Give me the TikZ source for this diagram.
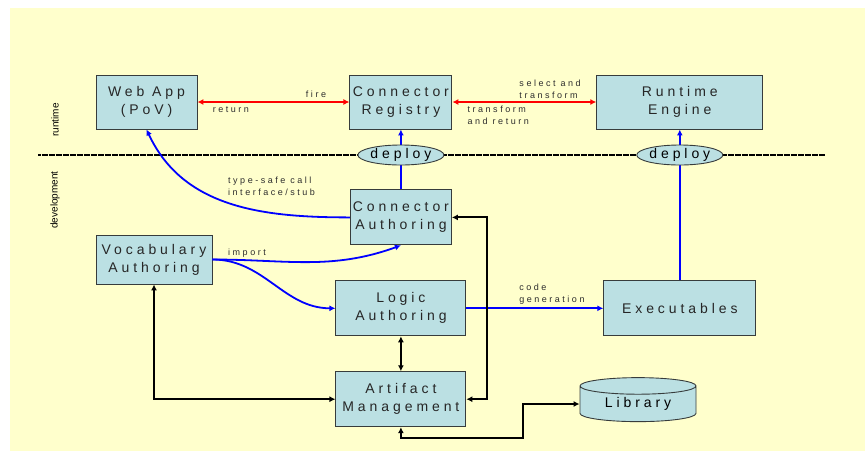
\documentclass[tikz,border=0pt]{standalone}
\usepackage{fontspec}
\setmainfont{Liberation Sans}
\newfontfamily\spacedfont[LetterSpace=28]{Liberation Sans}
\usetikzlibrary{positioning,arrows.meta,calc,shapes.geometric}
\definecolor{PaleYellow}{RGB}{255,255,204}
\definecolor{BoxBlue}{RGB}{187,224,227}
\definecolor{BoxEdge}{RGB}{55,60,60}
\definecolor{LabelGray}{RGB}{45,45,45}
\tikzset{
  box/.style={draw=BoxEdge,fill=BoxBlue,line width=0.9pt,align=center,inner sep=0pt,
    font=\spacedfont\fontsize{14}{18}\selectfont,text=black!85},
  deploy/.style={ellipse,draw=BoxEdge,fill=BoxBlue,line width=0.9pt,inner sep=0pt,
    minimum width=80pt,minimum height=20pt,font=\spacedfont\fontsize{14}{18}\selectfont},
  drum/.style={cylinder,shape border rotate=90,aspect=0.25,draw=BoxEdge,fill=BoxBlue,
    line width=0.9pt,inner sep=0pt,font=\spacedfont\fontsize{14}{18}\selectfont},
  note/.style={font=\spacedfont\fontsize{9}{12}\selectfont,text=LabelGray,align=left,inner sep=0pt},
  side/.style={rotate=90,font=\fontsize{10}{12}\selectfont,inner sep=0pt},
  divider/.style={line width=1.5pt,dash pattern=on 3pt off 0.5pt},
  redflow/.style={{Latex[length=6pt,width=6pt]}-{Latex[length=6pt,width=6pt]},line width=1.8pt,draw=red},
  blueflow/.style={-{Latex[length=6pt,width=6pt]},line width=1.8pt,draw=blue},
  blackflow/.style={{Latex[length=6pt,width=6pt]}-{Latex[length=6pt,width=6pt]},line width=1.9pt,draw=black}
}
\begin{document}
\begin{tikzpicture}[x=1pt,y=-1pt]
  \useasboundingbox (0,0) rectangle (865,451);
  \fill[PaleYellow] (10,8) rectangle (865,451);
  % runtime / development split
  \coordinate (divL) at (38,155);
  \coordinate (divR) at (825,155);
  \draw[divider] (divL) -- (divR);
  \node[side] (rtlabel) at (55,120) {runtime};
  \node[side] (devlabel) at (55,200) {development};

  \node[box,minimum width=101pt,minimum height=54pt] (webapp) at (146.5,102) {Web App\\(PoV)};
  \node[box,right=152pt of webapp,minimum width=102pt,minimum height=54pt] (registry) {Connector\\Registry};
  \node[box,right=144pt of registry,minimum width=166pt,minimum height=54pt] (engine) {Runtime\\Engine};
  \node[box,below=60pt of registry,minimum width=101pt,minimum height=55pt] (conauth) {Connector\\Authoring};
  \node[box,below=35pt of conauth,minimum width=130pt,minimum height=55pt] (logic) {Logic\\Authoring};
  \node[box,below=35pt of logic,minimum width=130pt,minimum height=55pt] (artifact) {Artifact\\Management};
  \node[box,right=137pt of logic,minimum width=152pt,minimum height=55pt] (exec) {Executables};
  \node[box,minimum width=116pt,minimum height=49pt] (vocab) at (154,259.5) {Vocabulary\\Authoring};
  \node[drum,minimum width=116pt,minimum height=44pt] (library) at (638,404) {Library};

  % runtime calls
  \draw[redflow] (webapp) -- (registry)
    node[note,pos=0.78,above=4pt] {fire}
    node[note,pos=0.22,below=4pt] {return};
  \draw[redflow] (registry) -- (engine)
    node[note,pos=0.46,above right=3pt and 0pt] {select and\\transform}
    node[note,pos=0.10,below right=3pt and 0pt] {transform\\and return};

  % deployment
  \draw[blueflow] (conauth) -- (registry);
  \draw[blueflow] (exec) -- (engine);
  \node[deploy] (deployA) at (registry |- divL) {deploy};
  \node[deploy] (deployB) at (engine |- divL) {deploy};

  % development flows
  \draw[blueflow] (conauth.west) to[out=180,in=-65] (webapp.south);
  \node[note,anchor=south west] (stub) at (228,196) {type-safe call\\interface/stub};
  \draw[blueflow] (vocab.east) to[out=0,in=200] (conauth.south);
  \draw[blueflow] (vocab.east) to[out=0,in=180] (logic.west);
  \node[note,anchor=base west] (import) at (228,255) {import};
  \draw[blueflow] (logic) -- (exec)
    node[note,pos=0.38,above right=3pt and 0pt] {code\\generation};

  % artifact management
  \draw[blackflow] (logic) -- (artifact);
  \draw[blackflow] (vocab.south) |- (artifact.west);
  \draw[blackflow] (artifact.east) -- ++(21,0) |- (conauth.east);
  \coordinate (libbend) at (523,438);
  \draw[blackflow] (artifact.south) |- (libbend) |- (library.west);
\end{tikzpicture}
\end{document}
